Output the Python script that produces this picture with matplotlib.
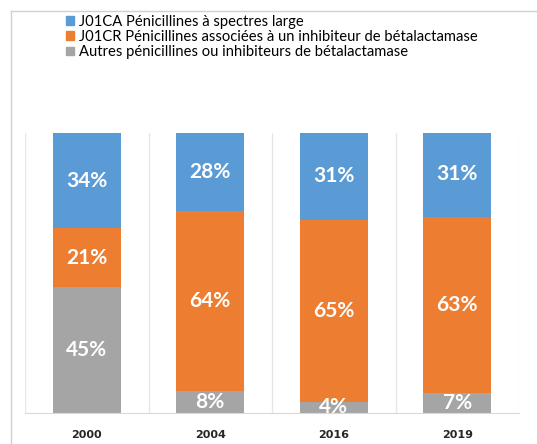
import matplotlib.pyplot as plt
import matplotlib.patches as mpatches
import numpy as np

years = ["2000", "2004", "2016", "2019"]
autres = [45, 8, 4, 7]
j01cr = [21, 64, 65, 63]
j01ca = [34, 28, 31, 31]

labels = ["J01CA Pénicillines à spectres large",
          "J01CR Pénicillines associées à un inhibiteur de bétalactamase",
          "Autres pénicillines ou inhibiteurs de bétalactamase"]
colors = ["#5B9BD5", "#ED7D31", "#A5A5A5"]

plt.rcParams['font.family'] = ['Lato', 'DejaVu Sans']

fig = plt.figure(figsize=(5.37, 4.44), dpi=100)
ax = fig.add_axes([25/537, 31/444, 494/537, 280/444])

x = np.arange(len(years))
w = 0.55
# stack from bottom: autres, j01cr, j01ca
series = [(autres, colors[2]), (j01cr, colors[1]), (j01ca, colors[0])]
bottom = np.zeros(len(years))
for vals, col in series:
    ax.bar(x, vals, w, bottom=bottom, color=col, zorder=2)
    for xi, b, v in zip(x, bottom, vals):
        ax.text(xi, b + v / 2, f"{v}%", ha='center', va='center',
                color='white', fontsize=15, fontweight='bold',
                clip_on=True, zorder=3)
    bottom += np.array(vals)

ax.set_xlim(-0.5, 3.5)
ax.set_ylim(0, 100)
ax.set_xticks(x)
ax.set_xticklabels(years, fontfamily='DejaVu Sans', fontweight='bold',
                   fontsize=8, color='#262626')
ax.set_xticks(np.arange(-0.5, 4, 1), minor=True)
ax.tick_params(axis='x', which='both', length=0, pad=12)
ax.set_yticks([])
ax.grid(axis='x', which='minor', color='#E6E6E6', lw=0.9, zorder=0)
for s in ['top', 'left', 'right']:
    ax.spines[s].set_visible(False)
ax.spines['bottom'].set_color('#D9D9D9')

# outer chart border (top and left edges visible)
fig.add_artist(plt.Line2D([11/537, 1], [1 - 11/444, 1 - 11/444],
                          transform=fig.transFigure, color='#D0D0D0', lw=1))
fig.add_artist(plt.Line2D([11/537, 11/537], [0, 1 - 11/444],
                          transform=fig.transFigure, color='#D0D0D0', lw=1))

# legend
handles = [mpatches.Patch(color=c) for c in colors]
fig.legend(handles, labels, loc='upper left', bbox_to_anchor=(60/537, 1 - 9/444),
           frameon=False, fontsize=10.6, handlelength=0.55, handleheight=0.55,
           handletextpad=0.35, labelspacing=0.08, borderaxespad=0)

fig.savefig("out.png", dpi=100)
